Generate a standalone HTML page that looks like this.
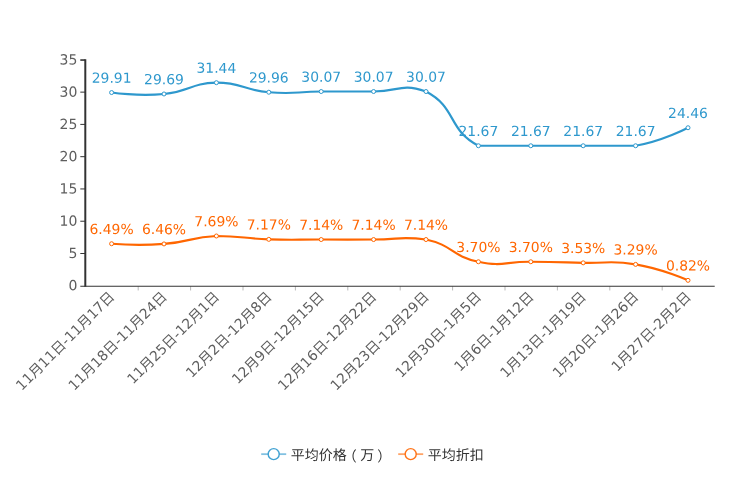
<!DOCTYPE html>
<html lang="zh-CN">
<head>
<meta charset="utf-8">
<title>平均价格与平均折扣</title>
<style>
html,body{margin:0;padding:0;background:#fff;}
body{width:744px;height:496px;overflow:hidden;font-family:"DejaVu Sans","Liberation Sans","Noto Sans CJK SC",sans-serif;}
svg{display:block;font-family:"DejaVu Sans","Liberation Sans","Noto Sans CJK SC",sans-serif;text-rendering:geometricPrecision;}
</style>
</head>
<body>
<svg width="744" height="496" viewBox="0 0 744 496">
<rect width="744" height="496" fill="#fff"/>
<g stroke="#333" stroke-width="1" fill="none">
<line x1="80.30" y1="286.25" x2="85.30" y2="286.25"/>
<line x1="80.30" y1="253.50" x2="85.30" y2="253.50"/>
<line x1="80.30" y1="221.23" x2="85.30" y2="221.23"/>
<line x1="80.30" y1="188.95" x2="85.30" y2="188.95"/>
<line x1="80.30" y1="156.68" x2="85.30" y2="156.68"/>
<line x1="80.30" y1="124.40" x2="85.30" y2="124.40"/>
<line x1="80.30" y1="92.13" x2="85.30" y2="92.13"/>
<line x1="80.30" y1="60.05" x2="85.30" y2="60.05" stroke-width="1.6"/>
<line x1="138.20" y1="286.25" x2="138.20" y2="290.45" stroke="#b0b0b0" stroke-width="0.9"/>
<line x1="190.60" y1="286.25" x2="190.60" y2="290.45" stroke="#b0b0b0" stroke-width="0.9"/>
<line x1="243.00" y1="286.25" x2="243.00" y2="290.45" stroke="#b0b0b0" stroke-width="0.9"/>
<line x1="295.40" y1="286.25" x2="295.40" y2="290.45" stroke="#b0b0b0" stroke-width="0.9"/>
<line x1="347.80" y1="286.25" x2="347.80" y2="290.45" stroke="#b0b0b0" stroke-width="0.9"/>
<line x1="400.20" y1="286.25" x2="400.20" y2="290.45" stroke="#b0b0b0" stroke-width="0.9"/>
<line x1="452.60" y1="286.25" x2="452.60" y2="290.45" stroke="#b0b0b0" stroke-width="0.9"/>
<line x1="505.00" y1="286.25" x2="505.00" y2="290.45" stroke="#b0b0b0" stroke-width="0.9"/>
<line x1="557.40" y1="286.25" x2="557.40" y2="290.45" stroke="#b0b0b0" stroke-width="0.9"/>
<line x1="609.80" y1="286.25" x2="609.80" y2="290.45" stroke="#b0b0b0" stroke-width="0.9"/>
<line x1="662.20" y1="286.25" x2="662.20" y2="290.45" stroke="#b0b0b0" stroke-width="0.9"/>
</g>
<line x1="85.30" y1="59.25" x2="85.30" y2="286.80" stroke="#333" stroke-width="2"/>
<line x1="85.30" y1="286.25" x2="714.70" y2="286.25" stroke="#333" stroke-width="1.1"/>
<g font-size="14" fill="#5e5e5e" text-anchor="end">
<text x="77.30" y="290.38" transform="rotate(0.03 77.30 290.38)">0</text>
<text x="77.30" y="258.10" transform="rotate(0.03 77.30 258.10)">5</text>
<text x="77.30" y="225.83" transform="rotate(0.03 77.30 225.83)">10</text>
<text x="77.30" y="193.55" transform="rotate(0.03 77.30 193.55)">15</text>
<text x="77.30" y="161.28" transform="rotate(0.03 77.30 161.28)">20</text>
<text x="77.30" y="129.00" transform="rotate(0.03 77.30 129.00)">25</text>
<text x="77.30" y="96.73" transform="rotate(0.03 77.30 96.73)">30</text>
<text x="77.30" y="64.45" transform="rotate(0.03 77.30 64.45)">35</text>
</g>
<g font-size="14" fill="#5e5e5e" text-anchor="end">
<text transform="translate(112.10 294.25) rotate(-45)" x="0" y="4.70">11月11日-11月17日</text>
<text transform="translate(164.50 294.25) rotate(-45)" x="0" y="4.70">11月18日-11月24日</text>
<text transform="translate(216.90 294.25) rotate(-45)" x="0" y="4.70">11月25日-12月1日</text>
<text transform="translate(269.30 294.25) rotate(-45)" x="0" y="4.70">12月2日-12月8日</text>
<text transform="translate(321.70 294.25) rotate(-45)" x="0" y="4.70">12月9日-12月15日</text>
<text transform="translate(374.10 294.25) rotate(-45)" x="0" y="4.70">12月16日-12月22日</text>
<text transform="translate(426.50 294.25) rotate(-45)" x="0" y="4.70">12月23日-12月29日</text>
<text transform="translate(478.90 294.25) rotate(-45)" x="0" y="4.70">12月30日-1月5日</text>
<text transform="translate(531.30 294.25) rotate(-45)" x="0" y="4.70">1月6日-1月12日</text>
<text transform="translate(583.70 294.25) rotate(-45)" x="0" y="4.70">1月13日-1月19日</text>
<text transform="translate(636.10 294.25) rotate(-45)" x="0" y="4.70">1月20日-1月26日</text>
<text transform="translate(688.50 294.25) rotate(-45)" x="0" y="4.70">1月27日-2月2日</text>
</g>
<path d="M111.60 92.56 C111.60 92.56 137.80 96.45 164.00 93.98 C190.49 91.48 190.12 83.12 216.40 82.68 C242.52 82.68 242.39 90.01 268.80 92.23 C294.79 94.43 295.00 91.70 321.20 91.52 C347.40 91.35 347.40 91.52 373.60 91.52 C399.80 91.52 399.80 82.68 426.00 91.52 C456.92 107.52 447.48 129.75 478.40 145.75 C499.88 145.75 504.60 145.75 530.80 145.75 C557.00 145.75 557.00 145.75 583.20 145.75 C609.40 145.75 609.40 145.75 635.60 145.75 C662.53 141.12 688.00 127.74 688.00 127.74" fill="none" stroke="#2e98cd" stroke-width="2.15" stroke-linejoin="round" stroke-linecap="butt"/>
<g fill="#fff" stroke="#2e98cd" stroke-width="1.0">
<circle cx="111.60" cy="92.56" r="2.0"/>
<circle cx="164.00" cy="93.98" r="2.0"/>
<circle cx="216.40" cy="82.68" r="2.0"/>
<circle cx="268.80" cy="92.23" r="2.0"/>
<circle cx="321.20" cy="91.52" r="2.0"/>
<circle cx="373.60" cy="91.52" r="2.0"/>
<circle cx="426.00" cy="91.52" r="2.0"/>
<circle cx="478.40" cy="145.75" r="2.0"/>
<circle cx="530.80" cy="145.75" r="2.0"/>
<circle cx="583.20" cy="145.75" r="2.0"/>
<circle cx="635.60" cy="145.75" r="2.0"/>
<circle cx="688.00" cy="127.74" r="2.0"/>
</g>
<g font-size="13.9" fill="#2e98cd" text-anchor="middle">
<text x="111.60" y="82.76" transform="rotate(0.03 111.60 82.76)">29.91</text>
<text x="164.00" y="84.18" transform="rotate(0.03 164.00 84.18)">29.69</text>
<text x="216.40" y="72.88" transform="rotate(0.03 216.40 72.88)">31.44</text>
<text x="268.80" y="82.43" transform="rotate(0.03 268.80 82.43)">29.96</text>
<text x="321.20" y="81.72" transform="rotate(0.03 321.20 81.72)">30.07</text>
<text x="373.60" y="81.72" transform="rotate(0.03 373.60 81.72)">30.07</text>
<text x="426.00" y="81.72" transform="rotate(0.03 426.00 81.72)">30.07</text>
<text x="478.40" y="135.95" transform="rotate(0.03 478.40 135.95)">21.67</text>
<text x="530.80" y="135.95" transform="rotate(0.03 530.80 135.95)">21.67</text>
<text x="583.20" y="135.95" transform="rotate(0.03 583.20 135.95)">21.67</text>
<text x="635.60" y="135.95" transform="rotate(0.03 635.60 135.95)">21.67</text>
<text x="688.00" y="117.94" transform="rotate(0.03 688.00 117.94)">24.46</text>
</g>
<path d="M111.60 243.74 C111.60 243.74 137.80 245.87 164.00 243.93 C190.35 241.98 190.08 237.14 216.40 235.99 C242.48 235.99 242.57 238.46 268.80 239.35 C294.97 240.23 295.00 239.49 321.20 239.54 C347.40 239.59 347.40 239.54 373.60 239.54 C399.80 239.54 399.80 235.99 426.00 239.54 C453.28 245.32 451.12 255.97 478.40 261.75 C503.52 267.07 504.60 261.47 530.80 261.75 C557.00 262.02 557.00 262.18 583.20 262.84 C609.40 263.51 609.40 260.02 635.60 264.39 C662.37 268.86 688.00 280.34 688.00 280.34" fill="none" stroke="#ff6600" stroke-width="2.15" stroke-linejoin="round" stroke-linecap="butt"/>
<g fill="#fff" stroke="#ff6600" stroke-width="1.0">
<circle cx="111.60" cy="243.74" r="2.0"/>
<circle cx="164.00" cy="243.93" r="2.0"/>
<circle cx="216.40" cy="235.99" r="2.0"/>
<circle cx="268.80" cy="239.35" r="2.0"/>
<circle cx="321.20" cy="239.54" r="2.0"/>
<circle cx="373.60" cy="239.54" r="2.0"/>
<circle cx="426.00" cy="239.54" r="2.0"/>
<circle cx="478.40" cy="261.75" r="2.0"/>
<circle cx="530.80" cy="261.75" r="2.0"/>
<circle cx="583.20" cy="262.84" r="2.0"/>
<circle cx="635.60" cy="264.39" r="2.0"/>
<circle cx="688.00" cy="280.34" r="2.0"/>
</g>
<g font-size="13.9" fill="#ff6600" text-anchor="middle">
<text x="111.60" y="233.94" transform="rotate(0.03 111.60 233.94)">6.49%</text>
<text x="164.00" y="234.13" transform="rotate(0.03 164.00 234.13)">6.46%</text>
<text x="216.40" y="226.19" transform="rotate(0.03 216.40 226.19)">7.69%</text>
<text x="268.80" y="229.55" transform="rotate(0.03 268.80 229.55)">7.17%</text>
<text x="321.20" y="229.74" transform="rotate(0.03 321.20 229.74)">7.14%</text>
<text x="373.60" y="229.74" transform="rotate(0.03 373.60 229.74)">7.14%</text>
<text x="426.00" y="229.74" transform="rotate(0.03 426.00 229.74)">7.14%</text>
<text x="478.40" y="251.95" transform="rotate(0.03 478.40 251.95)">3.70%</text>
<text x="530.80" y="251.95" transform="rotate(0.03 530.80 251.95)">3.70%</text>
<text x="583.20" y="253.04" transform="rotate(0.03 583.20 253.04)">3.53%</text>
<text x="635.60" y="254.59" transform="rotate(0.03 635.60 254.59)">3.29%</text>
<text x="688.00" y="270.54" transform="rotate(0.03 688.00 270.54)">0.82%</text>
</g>
<line x1="261.20" y1="454.15" x2="286.20" y2="454.15" stroke="#2e98cd" stroke-width="1.8" stroke-opacity="0.6"/>
<circle cx="273.70" cy="454.15" r="5.5" fill="#fff" stroke="#2e98cd" stroke-width="1.4" stroke-opacity="0.9"/>
<text x="290.70" y="459.95" transform="rotate(0.03 290.70 459.95)" font-size="14" fill="#333">平均价格<tspan dx="-4" dy="1.3">（</tspan><tspan dx="3.5" dy="-1.3">万</tspan><tspan dx="3.1" dy="1.3">）</tspan></text>
<line x1="398.20" y1="454.15" x2="423.20" y2="454.15" stroke="#ff6600" stroke-width="1.8" stroke-opacity="0.6"/>
<circle cx="410.70" cy="454.15" r="5.5" fill="#fff" stroke="#ff6600" stroke-width="1.4" stroke-opacity="0.9"/>
<text x="427.70" y="459.95" transform="rotate(0.03 427.70 459.95)" font-size="14" fill="#333">平均折扣</text>
</svg>
</body>
</html>
